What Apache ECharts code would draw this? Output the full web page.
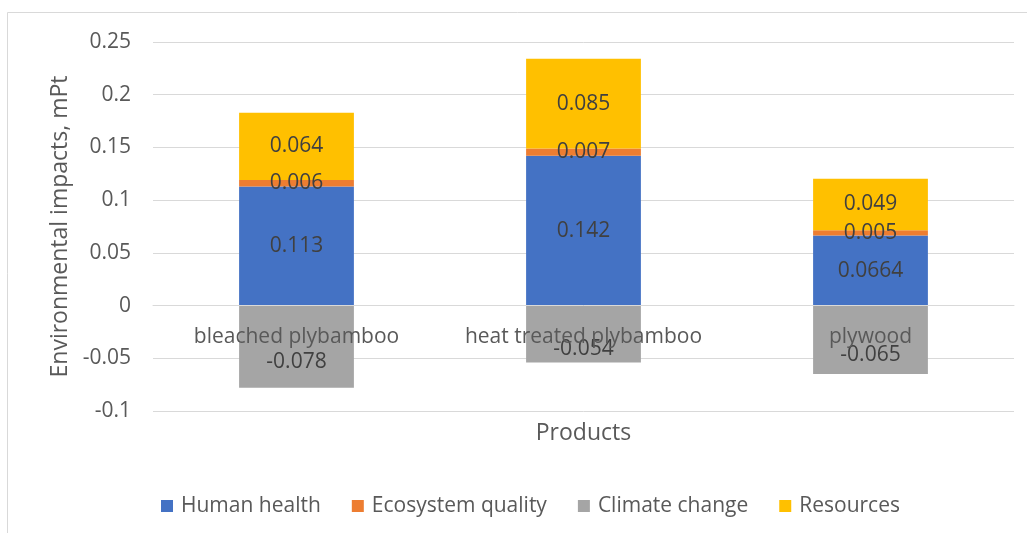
<!DOCTYPE html>
<html>
<head>
<meta charset="utf-8">
<script src="https://cdn.jsdelivr.net/npm/echarts@6/dist/echarts.min.js"></script>
<style>
  html, body { margin: 0; padding: 0; background: #fff; }
  #chart { width: 1027px; height: 533px; }
</style>
</head>
<body>
<div id="chart"></div>
<script>
// Products and their environmental impact components (mPt)
const categories = ['bleached plybamboo', 'heat treated plybamboo', 'plywood'];
const humanHealth = [0.113, 0.142, 0.0664];
const ecosystemQuality = [0.006, 0.007, 0.005];
const climateChange = [-0.078, -0.054, -0.065];
const resources = [0.064, 0.085, 0.049];
const seriesNames = ['Human health', 'Ecosystem quality', 'Climate change', 'Resources'];
const yTicks = { min: -0.1, max: 0.25, interval: 0.05 };

const FONT = 'Open Sans';
const TEXT = '#595959';
const labelStyle = {
  show: true,
  position: 'inside',
  color: '#404040',
  fontFamily: FONT,
  fontSize: 21,
  formatter: p => String(p.value)
};

function barSeries(name, data, color, extraLabel) {
  return {
    name: name,
    type: 'bar',
    stack: 'total',
    data: data,
    barCategoryGap: '60%',
    itemStyle: { color: color },
    label: Object.assign({}, labelStyle, extraLabel || {}),
    emphasis: { disabled: true }
  };
}

const chart = echarts.init(document.getElementById('chart'), null, { renderer: 'canvas' });
chart.setOption({
  animation: false,
  backgroundColor: '#fff',
  graphic: [{
    type: 'rect',
    shape: { x: 7.5, y: 12.5, width: 1030, height: 530 },
    style: { fill: 'none', stroke: '#d9d9d9', lineWidth: 1 },
    silent: true,
    z: -1
  }],
  grid: {
    left: 153, right: 13, top: 42, bottom: 122,
    containLabel: false,
    outerBoundsMode: 'none'
  },
  legend: {
    top: 488,
    left: 156,
    itemWidth: 12,
    itemHeight: 12,
    itemGap: 31,
    icon: 'rect',
    textStyle: { color: TEXT, fontFamily: FONT, fontSize: 21, lineHeight: 26, padding: [0, 0, 0, 3] },
    data: seriesNames
  },
  xAxis: {
    type: 'category',
    data: categories,
    z: 10,
    // category axis sits on the zero line of the value axis
    offset: -106,
    name: 'Products',
    nameLocation: 'middle',
    nameGap: 117,
    nameTextStyle: { color: TEXT, fontFamily: FONT, fontSize: 23 },
    axisLine: { onZero: false, lineStyle: { color: '#d9d9d9' } },
    axisTick: { show: false },
    axisLabel: { color: TEXT, fontFamily: FONT, fontSize: 21, margin: 22, interval: 0, hideOverlap: false }
  },
  yAxis: {
    type: 'value',
    min: yTicks.min,
    max: yTicks.max,
    interval: yTicks.interval,
    name: 'Environmental impacts, mPt',
    nameLocation: 'middle',
    nameGap: 80,
    nameTextStyle: { color: TEXT, fontFamily: FONT, fontSize: 23 },
    axisLine: { show: false },
    axisTick: { show: false },
    axisLabel: {
      color: TEXT, fontFamily: FONT, fontSize: 21, margin: 22,
      formatter: v => String(Math.round(v * 100) / 100)
    },
    splitLine: { lineStyle: { color: '#d9d9d9', width: 1 } }
  },
  series: [
    barSeries(seriesNames[0], humanHealth, '#4472C4'),
    barSeries(seriesNames[1], ecosystemQuality, '#ED7D31'),
    barSeries(seriesNames[2], climateChange, '#A5A5A5', { offset: [0, 15] }),
    barSeries(seriesNames[3], resources, '#FFC000')
  ]
});
</script>
</body>
</html>
